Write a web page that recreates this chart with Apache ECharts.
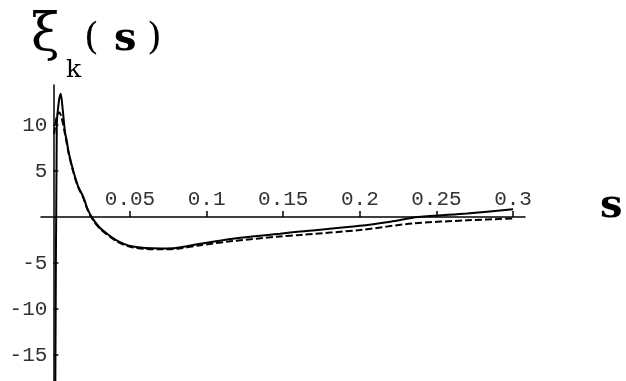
<!DOCTYPE html>
<html><head><meta charset="utf-8">
<script src="https://cdn.jsdelivr.net/npm/echarts@6/dist/echarts.min.js"></script>
<style>html,body{margin:0;padding:0;background:#fff}#c{width:626px;height:381px}</style>
</head><body><div id="c"></div>
<script>
const sSolid = [0, 0.0012, 0.0022, 0.0035, 0.0048, 0.006, 0.0076, 0.0087, 0.010, 0.013, 0.016, 0.0195, 0.022, 0.025, 0.030, 0.035, 0.041, 0.046, 0.052, 0.060, 0.070, 0.080, 0.096, 0.117, 0.148, 0.161, 0.200, 0.220, 0.238, 0.270, 0.300];
const ySolid = [-40, -20, 10, 12.5, 13.4, 11.8, 9.2, 8.3, 7.0, 5.0, 3.4, 2.2, 1.0, 0, -1.1, -1.8, -2.5, -2.9, -3.2, -3.35, -3.4, -3.35, -2.9, -2.35, -1.8, -1.57, -0.95, -0.5, 0, 0.4, 0.85];
const sDash = [0.0005, 0.002, 0.0035, 0.005, 0.0076, 0.010, 0.013, 0.016, 0.0195, 0.022, 0.025, 0.030, 0.035, 0.041, 0.046, 0.052, 0.060, 0.070, 0.080, 0.096, 0.117, 0.148, 0.161, 0.200, 0.235, 0.270, 0.300];
const yDash = [9.0, 10.8, 11.4, 11.0, 9.0, 6.9, 4.9, 3.3, 2.1, 0.9, -0.1, -1.2, -1.9, -2.6, -3.0, -3.3, -3.45, -3.5, -3.45, -3.05, -2.6, -2.1, -1.93, -1.4, -0.68, -0.35, -0.14];
const xTicks = [0.05, 0.1, 0.15, 0.2, 0.25, 0.3];
const yTicks = [-15, -10, -5, 5, 10];

const pair = (xs, ys) => xs.map((x, i) => [x, ys[i]]);
const mono = 'Liberation Mono, Courier New, monospace';
const G = {left: 41, right: 101, top: 85, bottom: 0};
const X = {min: -0.0081, max: 0.3078};
const Y = {min: -17.8, max: 14.35};
const plotW = 626 - G.left - G.right, plotH = 381 - G.top - G.bottom;
// axes cross at the origin: shift them inward from the grid edges
const xOffset = -plotH * (0 - Y.min) / (Y.max - Y.min);
const yOffset = -plotW * (0 - X.min) / (X.max - X.min);

const chart = echarts.init(document.getElementById('c'));
chart.setOption({
  animation: false,
  grid: G,
  xAxis: {
    type: 'value', min: X.min, max: X.max, position: 'bottom', offset: xOffset,
    axisLine: {onZero: false, lineStyle: {color: '#000', width: 1.5}},
    axisTick: {inside: true, length: 6, customValues: xTicks, lineStyle: {color: '#000', width: 1.5}},
    axisLabel: {inside: true, customValues: xTicks, fontFamily: mono, fontSize: 21, color: '#333', margin: 7,
      formatter: v => String(v)},
    splitLine: {show: false}
  },
  yAxis: {
    type: 'value', min: Y.min, max: Y.max, position: 'left', offset: yOffset,
    axisLine: {onZero: false, lineStyle: {color: '#000', width: 1.5}},
    axisTick: {inside: true, length: 5, customValues: yTicks, lineStyle: {color: '#000', width: 1.5}},
    axisLabel: {customValues: yTicks, fontFamily: mono, fontSize: 21, color: '#333', margin: 6},
    splitLine: {show: false}
  },
  series: [
    {type: 'line', data: pair(sSolid, ySolid), showSymbol: false, smooth: 0.3,
     lineStyle: {color: '#000', width: 2}},
    {type: 'line', data: pair(sDash, yDash), showSymbol: false, smooth: 0.3,
     lineStyle: {color: '#000', width: 2, type: [7, 3]}}
  ],
  graphic: [
    {type: 'text', left: 31, top: 10, style: {text: 'ξ', font: '52px "DejaVu Serif"', fill: '#000'}},
    {type: 'text', left: 66, top: 58, style: {text: 'k', font: '25px "DejaVu Serif"', fill: '#000'}},
    {type: 'text', left: 84, top: 20, style: {text: '(', font: '38px "DejaVu Serif"', fill: '#000'}},
    {type: 'text', left: 114, top: 20, style: {text: 's', font: 'bold 40px "DejaVu Serif"', fill: '#000'}},
    {type: 'text', left: 147, top: 20, style: {text: ')', font: '38px "DejaVu Serif"', fill: '#000'}},
    {type: 'text', left: 600, top: 187, style: {text: 's', font: 'bold 40px "DejaVu Serif"', fill: '#000'}}
  ]
});
</script></body></html>
